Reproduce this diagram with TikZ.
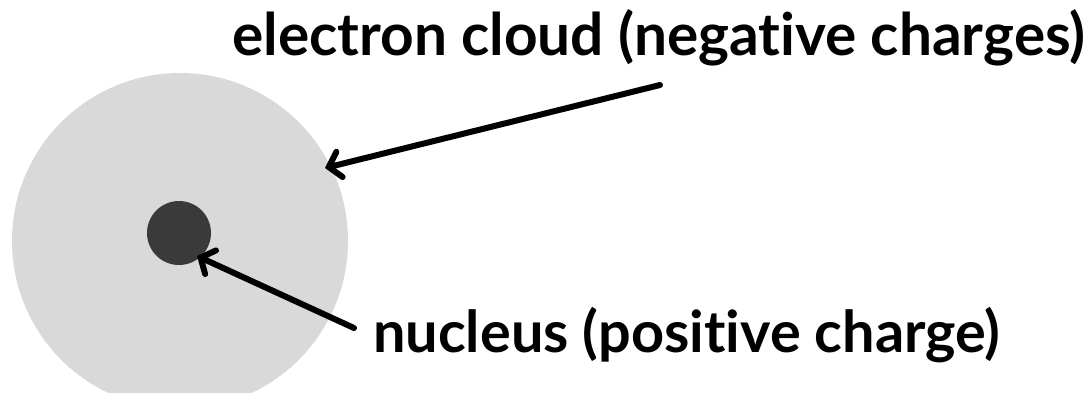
\documentclass[tikz,border=0pt]{standalone}
\usepackage{fontspec}
\setmainfont[Ligatures={NoCommon,NoRare,NoContextual}]{Lato}
\usetikzlibrary{arrows.meta}
\definecolor{cloud}{HTML}{D9D9D9}
\definecolor{nuc}{HTML}{3A3A3A}
\tikzset{
  lbl/.style={inner sep=0pt, anchor=base west, font=\bfseries},
  pointer/.style={line width=6pt, line cap=round, -{Straight Barb[length=11pt,width=26pt,line cap=round]}}
}
\begin{document}
\begin{tikzpicture}[x=1pt,y=1pt]
\useasboundingbox (0,0) rectangle (1091,392);
\fill[cloud] (180,151) circle[radius=168];
\node[circle, fill=nuc, minimum size=64pt, inner sep=0pt] (nucleus) at (179,159) {};
\node[lbl] (t1) at (232,336) {\resizebox{853pt}{!}{electron cloud (negative charges)}};
\node[lbl] (t2) at (373,40) {\resizebox{627pt}{!}{nucleus (positive charge)}};
\coordinate (a1s) at (660,307);
\coordinate (a1e) at (325,224);
\coordinate (a2s) at (354,64);
\coordinate (a2e) at (197,136);
\draw[pointer] (a1s) -- (a1e);
\draw[pointer] (a2s) -- (a2e);
\end{tikzpicture}
\end{document}
